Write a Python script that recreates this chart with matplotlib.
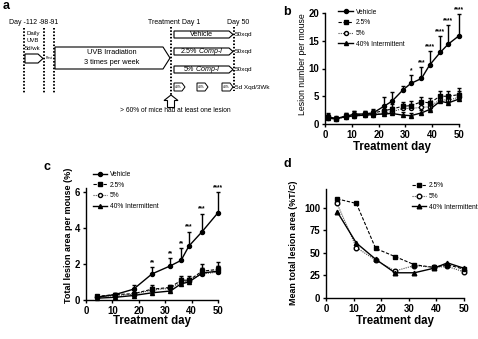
import matplotlib
matplotlib.use("Agg")
import matplotlib.pyplot as plt
from matplotlib.patches import Polygon

plt.rcParams['font.family'] = ['Liberation Sans', 'DejaVu Sans']
plt.rcParams['mathtext.fontset'] = 'custom'
plt.rcParams['mathtext.it'] = 'Liberation Sans:italic'
plt.rcParams['mathtext.rm'] = 'Liberation Sans'

# ---------------- data ----------------
series_names = ['Vehicle', '2.5%', '5%', '40% Intermittent']

# b: lesion number per mouse
days_b = [1, 4, 8, 11, 15, 18, 22, 25, 29, 32, 36, 39, 43, 46, 50]
veh_b = [1.3, 1.0, 1.4, 1.8, 1.8, 2.0, 3.2, 4.1, 6.1, 7.3, 8.2, 10.6, 12.9, 14.4, 15.9]
veh_b_err = [0.6, 0.4, 0.5, 0.6, 0.5, 0.6, 1.6, 1.7, 0.8, 1.5, 2.0, 2.5, 2.9, 3.5, 3.9]
c25_b = [1.2, 0.9, 1.5, 1.6, 1.8, 2.0, 2.4, 2.7, 3.2, 3.3, 4.0, 3.8, 5.0, 5.0, 5.3]
c25_b_err = [0.6, 0.4, 0.5, 0.7, 0.5, 0.7, 0.8, 0.9, 0.8, 0.8, 0.8, 0.9, 0.9, 1.0, 1.2]
c5_b = [1.0, 0.9, 1.3, 1.4, 1.6, 1.7, 2.0, 2.2, 2.8, 2.8, 3.0, 3.1, 4.4, 4.3, 4.8]
c5_b_err = [0.5, 0.4, 0.5, 0.6, 0.5, 0.6, 0.7, 0.8, 0.8, 0.8, 0.8, 1.0, 0.9, 1.0, 1.1]
int_b = [1.0, 1.0, 1.3, 1.5, 1.6, 1.7, 1.8, 1.9, 1.6, 1.5, 2.0, 2.6, 4.1, 3.8, 4.5]
int_b_err = [0.4, 0.3, 0.4, 0.5, 0.4, 0.5, 0.6, 0.7, 0.5, 0.5, 0.6, 0.8, 0.9, 0.9, 1.0]
stars_b = ['', '', '', '', '', '', '', '', '', '*', '***', '****', '****', '****', '****']

# c: total lesion area per mouse (%)
days_c = [4, 11, 18, 25, 32, 36, 39, 44, 50]
veh_c = [0.15, 0.3, 0.6, 1.45, 1.9, 2.2, 3.0, 3.8, 4.85]
veh_c_err = [0.06, 0.08, 0.25, 0.4, 0.45, 0.7, 0.8, 1.0, 1.15]
c25_c = [0.2, 0.3, 0.35, 0.6, 0.7, 1.1, 1.1, 1.6, 1.7]
c25_c_err = [0.05, 0.08, 0.1, 0.25, 0.15, 0.25, 0.25, 0.4, 0.4]
c5_c = [0.15, 0.25, 0.32, 0.55, 0.65, 1.0, 1.05, 1.45, 1.55]
c5_c_err = [0.05, 0.07, 0.08, 0.2, 0.15, 0.25, 0.2, 0.35, 0.35]
int_c = [0.1, 0.15, 0.25, 0.4, 0.5, 0.9, 1.0, 1.5, 1.6]
int_c_err = [0.03, 0.05, 0.06, 0.1, 0.1, 0.2, 0.2, 0.3, 0.3]
stars_c = ['', '', '', '**', '**', '**', '***', '***', '****']

# d: mean total lesion area (%T/C)
days_d = [4, 11, 18, 25, 32, 39, 44, 50]
c25_d = [110, 105, 55, 46, 37, 34, 37, 32]
c5_d = [105, 56, 42, 30, 36, 34, 35, 29]
int_d = [96, 61, 43, 28, 28, 33, 39, 33]

# ---------------- styles ----------------
styles = {
    'Vehicle': dict(color='black', ls='-', lw=1.0, marker='o', mfc='black', ms=2.9, zorder=5),
    '2.5%': dict(color='black', ls=(0, (3, 1.5)), lw=0.8, marker='s', mfc='black', ms=2.9, zorder=4),
    '5%': dict(color='0.3', ls=(0, (1, 1)), lw=0.8, marker='o', mfc='white', mec='black', ms=2.9, zorder=3),
    '40% Intermittent': dict(color='black', ls='-', lw=1.0, marker='^', mfc='black', ms=2.9, zorder=4),
}

W, H = 478, 339
fig = plt.figure(figsize=(W / 100, H / 100), dpi=100)


def px_axes(x0, x1, y_bottom, y_top):
    return fig.add_axes([x0 / W, 1 - y_bottom / H, (x1 - x0) / W, (y_bottom - y_top) / H])


def prism_style(ax):
    for s in ['top', 'right']:
        ax.spines[s].set_visible(False)
    for s in ['left', 'bottom']:
        ax.spines[s].set_linewidth(1.0)
    ax.tick_params(direction='out', length=2.5, width=1.0, pad=1.5, labelsize=6.9)
    for lab in ax.get_xticklabels() + ax.get_yticklabels():
        lab.set_fontweight('bold')


def draw_series(ax, days, vals, errs, name, ms=None):
    st = styles[name]
    kw = dict(st)
    z = kw.pop('zorder')
    if ms is not None:
        kw['ms'] = ms
    if errs is not None:
        ax.errorbar(days, vals, yerr=[[0] * len(errs), errs], fmt='none',
                    ecolor='black', elinewidth=1.0, capsize=1.4, capthick=1.0,
                    zorder=z - 0.5, clip_on=False)
    line, = ax.plot(days, vals, label=name, zorder=z, clip_on=False, **kw)
    return line


def draw_stars(ax, days, vals, errs, stars, off):
    for d, v, e, s in zip(days, vals, errs, stars):
        if s:
            ax.text(d, v + e + off, s, ha='center', va='bottom', fontsize=4.7,
                    fontweight='bold', clip_on=False)


def x_label(ax, y):
    ax.set_xlabel('Treatment day', fontsize=8.3, fontweight='bold')
    ax.xaxis.set_label_coords(0.5, y)
    ax.xaxis.label.set_va('center')


# ---------------- panel b ----------------
axb = px_axes(325, 459, 124, 13)
axb.set_xlim(0, 50)
axb.set_ylim(0, 20)
axb.set_xticks([0, 10, 20, 30, 40, 50])
axb.set_yticks([0, 5, 10, 15, 20])
prism_style(axb)
hb = []
for name, v, e in [('Vehicle', veh_b, veh_b_err), ('2.5%', c25_b, c25_b_err),
                   ('5%', c5_b, c5_b_err), ('40% Intermittent', int_b, int_b_err)]:
    hb.append(draw_series(axb, days_b, v, e, name))
draw_stars(axb, days_b, veh_b, veh_b_err, stars_b, 0.15)
axb.set_ylabel('Lesion number per mouse', fontsize=6.3)
axb.yaxis.set_label_coords(-0.135, 0.54)
x_label(axb, -0.205)
axb.legend(handles=hb, loc='upper left', bbox_to_anchor=(0.1, 1.04), frameon=False,
           fontsize=4.8, handlelength=2.2, handletextpad=0.4, labelspacing=0.55,
           borderpad=0, borderaxespad=0)

# ---------------- panel c ----------------
axc = px_axes(86, 218, 300, 188.4)
axc.set_xlim(0, 50)
axc.set_ylim(0, 6.2)
axc.set_xticks([0, 10, 20, 30, 40, 50])
axc.set_yticks([0, 2, 4, 6])
prism_style(axc)
hc = []
for name, v, e in [('Vehicle', veh_c, veh_c_err), ('2.5%', c25_c, c25_c_err),
                   ('5%', c5_c, c5_c_err), ('40% Intermittent', int_c, int_c_err)]:
    hc.append(draw_series(axc, days_c, v, e, name))
draw_stars(axc, days_c, veh_c, veh_c_err, stars_c, 0.05)
axc.set_ylabel('Total lesion area per mouse (%)', fontsize=6.5, fontweight='bold')
axc.yaxis.set_label_coords(-0.095, 0.58)
x_label(axc, -0.19)
axc.legend(handles=hc, loc='upper left', bbox_to_anchor=(0.05, 1.155), frameon=False,
           fontsize=4.8, handlelength=2.2, handletextpad=0.4, labelspacing=0.55,
           borderpad=0, borderaxespad=0)

# ---------------- panel d ----------------
axd = px_axes(326, 464, 298, 189)
axd.set_xlim(0, 50)
axd.set_ylim(0, 121)
axd.set_xticks([0, 10, 20, 30, 40, 50])
axd.set_yticks([0, 25, 50, 75, 100])
prism_style(axd)
hd = []
for name, v in [('2.5%', c25_d), ('5%', c5_d), ('40% Intermittent', int_d)]:
    hd.append(draw_series(axd, days_d, v, None, name, ms=3.3))
axd.set_ylabel('Mean total lesion area (%T/C)', fontsize=6.4, fontweight='bold')
axd.yaxis.set_label_coords(-0.2, 0.51)
x_label(axd, -0.21)
axd.legend(handles=hd, loc='upper left', bbox_to_anchor=(0.62, 1.06), frameon=False,
           fontsize=4.8, handlelength=2.2, handletextpad=0.4, labelspacing=0.55,
           borderpad=0, borderaxespad=0)

# ---------------- panel letters ----------------
for lbl, x, y in [('a', 3, 6), ('b', 283, 12), ('c', 44, 167), ('d', 283, 164)]:
    fig.text(x / W, 1 - y / H, lbl, fontsize=9, fontweight='bold', ha='left', va='center')

# ---------------- panel a: study schematic ----------------
axa = px_axes(0, 260, 125, 0)
axa.set_xlim(0, 260)
axa.set_ylim(125, 0)
axa.axis('off')


def vdots(x, y0, y1):
    axa.plot([x, x], [y0, y1], color='black', lw=1.4, ls=(0, (0.8, 0.9)),
             solid_capstyle='butt', dash_capstyle='butt')


def arrow_box(x0, x1, y0, y1, tip, lw=0.8):
    ym = (y0 + y1) / 2
    axa.add_patch(Polygon([(x0, y0), (x1 - tip, y0), (x1, ym), (x1 - tip, y1), (x0, y1)],
                          closed=True, fc='white', ec='black', lw=lw, zorder=2))


for x in (24, 44, 54):
    vdots(x, 28, 93)
vdots(171, 27, 96)
vdots(234, 27, 91)

fs = 5.0
axa.text(9, 23, 'Day -112', fontsize=fs, va='center', ha='left')
axa.text(39, 23, '-98', fontsize=fs, va='center', ha='left')
axa.text(49, 23, '-91', fontsize=fs, va='center', ha='left')
axa.text(148, 23, 'Treatment Day 1', fontsize=fs, va='center', ha='left')
axa.text(227, 23, 'Day 50', fontsize=fs, va='center', ha='left')

for t, y in [('Daily', 33), ('UVB', 41), ('5d/wk', 49)]:
    axa.text(33, y, t, fontsize=4.3, ha='center', va='center', zorder=3)
arrow_box(25, 43, 54, 63, 5)
axa.text(49.5, 58, 'Rest', fontsize=2.4, ha='center', va='center', zorder=3)

arrow_box(55, 170, 47, 69, 7)
axa.text(112, 53, 'UVB Irradiation', fontsize=5.3, ha='center', va='center', zorder=3)
axa.text(112, 62, '3 times per week', fontsize=5.3, ha='center', va='center', zorder=3)

arms = [('Vehicle', 31, 38), (r'2.5% $\mathit{Comp}$-$\mathit{I}$', 48, 55),
        (r'5% $\mathit{Comp}$-$\mathit{I}$', 66, 73)]
for t, y0, y1 in arms:
    arrow_box(174, 233, y0, y1, 4)
    axa.text(202, (y0 + y1) / 2, t, fontsize=5.1, ha='center', va='center', zorder=3)
    axa.text(235, (y0 + y1) / 2, '50xqd', fontsize=4.6, ha='left', va='center')

for x0, x1 in [(174, 185), (197, 208), (222, 233)]:
    arrow_box(x0, x1, 83, 91, 3, lw=0.7)
    axa.text((x0 + x1) / 2 - 1, 87, '40%', fontsize=2.4, ha='center', va='center', zorder=3)
axa.text(235, 87, '5d Xqd/3Wk', fontsize=4.6, ha='left', va='center')

axa.add_patch(Polygon([(171, 95), (178, 100.5), (174.5, 100.5), (174.5, 107.5),
                       (167.5, 107.5), (167.5, 100.5), (164, 100.5)],
                      closed=True, fc='white', ec='black', lw=0.8, zorder=3))
axa.text(120, 110.5, '> 60% of mice had at least one lesion', fontsize=4.8,
         ha='left', va='center')

fig.savefig('out.png', dpi=100)
